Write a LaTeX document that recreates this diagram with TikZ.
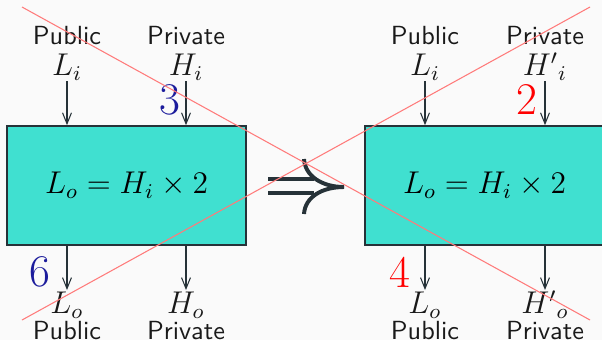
\documentclass[tikz,border=0pt]{standalone}
\usepackage{tikz}
\usetikzlibrary{arrows.meta,positioning,calc}
\usepackage{xcolor}
\definecolor{paper}{HTML}{FAFAFA}
\definecolor{dark}{HTML}{263238}
\definecolor{turq}{HTML}{40E0D0}
\definecolor{crossred}{HTML}{FF7A7A}
\definecolor{stepblue}{HTML}{1C1C9C}
\tikzset{
  progbox/.style={draw=dark, line width=0.6pt, fill=turq, minimum width=3.2cm, minimum height=1.595cm, inner sep=0pt, font=\large},
  chan/.style={align=center, inner sep=0pt, font=\sffamily, text=black!90},
  flow/.style={-{Straight Barb[length=4.2pt,width=3.4pt]}, draw=dark, line width=0.4pt},
  stepnum/.style={font=\LARGE, inner sep=0pt},
  cross/.style={draw=crossred, line width=0.4pt},
  implies/.style={draw=dark, line width=1.5pt}
}

\begin{document}
\begin{tikzpicture}[x=0.0134cm, y=-0.0134cm]
  \fill[paper] (0,0) rectangle (602,340);
  \clip (0,0) rectangle (602,340);

  % left program
  \node[progbox] (lbox) at (126.5,185.5) {$L_o = H_i \times 2$};
  \node[chan, anchor=south] (lpubin) at (67,81) {Public\\{\large$L_i$}};
  \node[chan, anchor=south] (lprivin) at (186,81) {Private\\{\large$H_i$}};
  \node[chan, anchor=north] (lpubout) at (67,290) {{\large$\vphantom{H'}L_o$}\\[-2pt]Public};
  \node[chan, anchor=north] (lprivout) at (186,290) {{\large$\vphantom{H'}H_o$}\\[-2pt]Private};
  \draw[flow] (lpubin) -- (lpubin |- lbox.north);
  \draw[flow] (lprivin) -- (lprivin |- lbox.north);
  \draw[flow] (lpubout |- lbox.south) -- (lpubout);
  \draw[flow] (lprivout |- lbox.south) -- (lprivout);
  \node[stepnum, text=stepblue] (lnumin) at (170,100) {3};
  \node[stepnum, text=stepblue] (lnumout) at (40,272) {6};

  % right program
  \node[progbox] (rbox) at (484.5,185.5) {$L_o = H_i \times 2$};
  \node[chan, anchor=south] (rpubin) at (425,81) {Public\\{\large$L_i$}};
  \node[chan, anchor=south] (rprivin) at (545,81) {Private\\{\large$H'{}_i$}};
  \node[chan, anchor=north] (rpubout) at (425,290) {{\large$\vphantom{H'}L_o$}\\[-2pt]Public};
  \node[chan, anchor=north] (rprivout) at (545,290) {{\large$H'{}_o$}\\[-2pt]Private};
  \draw[flow] (rpubin) -- (rpubin |- rbox.north);
  \draw[flow] (rprivin) -- (rprivin |- rbox.north);
  \draw[flow] (rpubout |- rbox.south) -- (rpubout);
  \draw[flow] (rprivout |- rbox.south) -- (rprivout);
  \node[stepnum, text=red] (rnumin) at (527,100) {2};
  \node[stepnum, text=red] (rnumout) at (400,272) {4};

  % implication sign, crossed out
  \draw[implies] (268,179) -- (314,179) (268,193) -- (314,193);
  \draw[implies] (304,159) .. controls (305,176) and (322,187) .. (344,187);
  \draw[implies] (304,214) .. controls (305,197) and (322,187) .. (344,187);
  \coordinate (crossTL) at (22,7);
  \coordinate (crossBR) at (590,320);
  \coordinate (crossBL) at (22,320);
  \coordinate (crossTR) at (590,7);
  \draw[cross] (crossTL) -- (crossBR);
  \draw[cross] (crossBL) -- (crossTR);
\end{tikzpicture}
\end{document}
